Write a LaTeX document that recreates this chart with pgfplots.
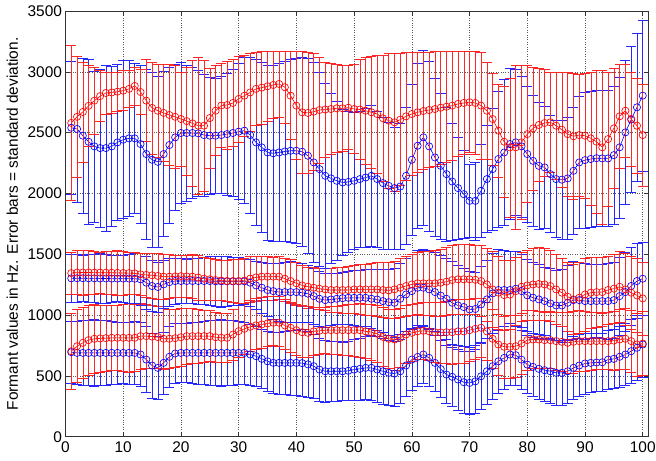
\documentclass[border=0pt]{standalone}
\usepackage{fontspec}
\setmainfont{Liberation Sans}
\usepackage{pgfplots}
\usepackage{pgfplotstable}
\pgfplotsset{compat=1.18}

\pgfplotstableread{
x rm rs bm bs
1 2580 640 2540 550
2 2630 500 2530 600
3 2670 410 2475 640
4 2720 330 2425 680
5 2763 277 2387 620
6 2800 210 2373 650
7 2826 174 2373 680
8 2830 170 2387 660
9 2837 163 2420 640
10 2845 165 2442 650
11 2860 150 2453 640
12 2884 156 2453 620
13 2834 186 2406 650
14 2763 337 2324 700
15 2703 377 2277 720
16 2680 380 2260 700
17 2662 398 2324 680
18 2645 415 2398 640
19 2630 420 2461 600
20 2612 388 2497 580
21 2595 445 2497 560
22 2576 520 2497 540
23 2557 560 2494 520
24 2557 540 2480 500
25 2620 410 2475 480
26 2680 370 2475 470
27 2723 347 2480 480
28 2727 363 2488 500
29 2744 356 2497 520
30 2777 353 2508 560
31 2804 336 2516 600
32 2831 319 2480 640
33 2860 300 2420 680
34 2870 300 2379 700
35 2881 289 2337 720
36 2892 278 2330 720
37 2900 270 2337 730
38 2873 297 2345 740
39 2804 361 2351 750
40 2722 443 2351 760
41 2667 503 2343 780
42 2662 498 2310 800
43 2672 478 2255 820
44 2686 434 2200 800
45 2690 390 2145 760
46 2694 376 2124 700
47 2700 360 2104 650
48 2700 350 2090 600
49 2705 345 2095 580
50 2694 366 2104 560
51 2690 410 2118 560
52 2680 440 2131 570
53 2667 463 2145 580
54 2653 487 2118 560
55 2618 522 2085 540
56 2598 552 2062 520
57 2585 565 2044 500
58 2607 543 2057 520
59 2634 526 2145 560
60 2653 507 2277 620
61 2667 493 2392 680
62 2678 482 2461 720
63 2686 474 2387 700
64 2694 471 2296 650
65 2705 465 2227 600
66 2713 457 2159 550
67 2722 448 2098 480
68 2736 434 2044 420
69 2744 426 1994 360
70 2750 415 1939 300
71 2744 421 1939 320
72 2722 438 2022 380
73 2680 400 2118 440
74 2612 378 2200 500
75 2516 384 2283 560
76 2425 455 2337 600
77 2379 571 2406 620
78 2379 671 2420 600
79 2420 630 2387 580
80 2488 562 2324 560
81 2535 505 2268 540
82 2563 467 2227 520
83 2579 441 2214 500
84 2585 415 2159 480
85 2557 443 2118 480
86 2524 476 2113 490
87 2488 512 2124 500
88 2470 520 2186 520
89 2480 500 2255 540
90 2475 515 2274 560
91 2453 547 2283 560
92 2425 585 2290 560
93 2379 631 2288 560
94 2447 553 2288 560
95 2535 495 2315 570
96 2634 426 2379 580
97 2680 380 2502 590
98 2612 388 2607 600
99 2557 393 2708 610
100 2480 420 2804 620
}\tabFthree

\pgfplotstableread{
x rm rs bm bs
1 1345 175 1302 200
2 1349 180 1303 195
3 1350 185 1303 190
4 1350 180 1302 195
5 1349 175 1302 200
6 1349 170 1301 205
7 1348 175 1301 200
8 1348 180 1300 195
9 1347 185 1300 190
10 1346 180 1300 195
11 1345 175 1300 200
12 1343 170 1299 205
13 1335 175 1294 210
14 1330 180 1266 215
15 1327 185 1239 210
16 1322 190 1231 205
17 1316 185 1252 200
18 1316 180 1271 195
19 1318 175 1280 190
20 1320 170 1280 185
21 1318 175 1280 180
22 1316 180 1280 185
23 1308 185 1280 190
24 1299 180 1280 195
25 1294 175 1280 200
26 1288 170 1277 205
27 1284 165 1277 210
28 1280 170 1277 205
29 1280 175 1277 200
30 1280 180 1277 195
31 1284 185 1277 190
32 1300 180 1266 195
33 1310 175 1244 200
34 1316 170 1225 210
35 1316 165 1206 220
36 1316 160 1197 230
37 1316 165 1189 240
38 1299 170 1189 245
39 1280 175 1189 250
40 1261 170 1189 245
41 1244 165 1184 240
42 1233 160 1176 235
43 1225 165 1156 230
44 1217 170 1134 225
45 1211 175 1123 220
46 1206 180 1128 215
47 1206 185 1134 210
48 1206 190 1139 215
49 1206 195 1142 220
50 1211 200 1142 225
51 1211 205 1142 230
52 1211 210 1142 235
53 1211 215 1134 240
54 1211 220 1128 250
55 1206 225 1115 260
56 1203 230 1106 270
57 1211 235 1101 280
58 1225 240 1134 290
59 1239 245 1170 300
60 1252 250 1197 305
61 1261 255 1225 310
62 1261 260 1225 315
63 1261 265 1211 320
64 1261 270 1189 325
65 1266 275 1160 330
66 1275 280 1134 335
67 1288 285 1101 340
68 1294 290 1079 330
69 1294 290 1066 320
70 1294 285 1046 310
71 1290 280 1050 300
72 1280 290 1088 310
73 1252 300 1129 320
74 1211 310 1178 330
75 1184 300 1206 335
76 1164 290 1206 330
77 1168 285 1206 320
78 1197 280 1217 310
79 1233 285 1197 300
80 1244 290 1162 295
81 1252 295 1143 290
82 1256 300 1129 285
83 1252 295 1115 280
84 1239 290 1096 285
85 1211 285 1079 290
86 1184 280 1079 300
87 1151 285 1101 310
88 1129 290 1123 320
89 1143 295 1123 315
90 1170 300 1115 310
91 1184 295 1115 305
92 1189 290 1115 300
93 1189 285 1115 305
94 1206 280 1115 310
95 1217 285 1123 315
96 1233 290 1156 320
97 1211 295 1189 325
98 1184 300 1239 320
99 1162 305 1280 310
100 1137 300 1299 300
}\tabFtwo

\pgfplotstableread{
x rm rs bm bs
1 703 310 695 255
2 744 300 689 260
3 772 290 689 265
4 794 285 689 270
5 805 280 689 275
6 808 275 689 270
7 810 270 689 265
8 813 265 689 260
9 813 270 689 255
10 813 275 689 250
11 813 280 689 255
12 813 275 689 260
13 827 270 676 265
14 827 265 634 270
15 823 260 585 265
16 819 255 566 260
17 805 250 607 255
18 805 245 657 250
19 810 240 684 245
20 818 235 689 240
21 827 230 689 245
22 827 225 689 250
23 827 220 689 255
24 827 215 689 260
25 827 210 689 265
26 818 205 689 270
27 813 200 689 275
28 813 205 689 270
29 840 210 689 265
30 868 215 689 260
31 887 210 689 255
32 904 205 676 250
33 915 200 662 245
34 923 195 640 240
35 931 190 620 245
36 937 185 607 250
37 937 190 607 255
38 915 195 607 260
39 896 200 607 265
40 876 205 607 270
41 859 210 605 275
42 854 205 595 270
43 866 200 580 265
44 871 195 552 260
45 876 190 538 255
46 876 195 538 250
47 876 200 538 245
48 876 205 538 240
49 876 210 542 245
50 876 215 552 250
51 876 220 558 255
52 866 225 566 260
53 859 230 566 265
54 846 235 552 270
55 821 240 538 275
56 805 245 525 270
57 799 250 519 265
58 813 245 538 260
59 840 240 585 255
60 854 235 634 250
61 866 230 656 245
62 871 235 676 240
63 866 240 648 235
64 859 245 607 230
65 857 250 556 235
66 859 255 511 240
67 859 260 492 245
68 866 265 470 250
69 866 260 448 255
70 876 255 442 260
71 887 250 455 265
72 896 245 497 270
73 866 240 538 275
74 805 245 580 270
75 758 250 620 265
76 739 255 648 260
77 739 260 676 255
78 744 255 670 250
79 766 250 634 245
80 794 245 593 240
81 799 240 574 245
82 799 235 558 250
83 794 230 547 255
84 794 235 538 260
85 786 240 525 265
86 780 245 525 270
87 772 250 538 265
88 780 255 566 260
89 786 250 585 255
90 786 245 602 250
91 786 240 607 245
92 786 235 610 240
93 786 230 612 235
94 786 235 634 240
95 790 240 640 245
96 799 245 657 250
97 805 250 676 255
98 786 255 703 260
99 758 260 731 265
100 766 265 758 270
}\tabFone

\pgfplotsset{
  fser/.style={#1, line width=0.6bp, mark=o, mark size=3.6bp,
    mark options={#1, solid, line width=0.65bp},
    error bars/.cd, y dir=both, y explicit,
    error bar style={#1!85, line width=0.55bp},
    error mark options={#1!85, rotate=90, mark size=5bp, line width=0.55bp}},
}

\begin{document}
\begin{tikzpicture}
\begin{axis}[
  scale only axis, width=583bp, height=425.7bp,
  at={(0,0)}, anchor=south west,
  xmin=0, xmax=101, ymin=0, ymax=3500,
  xtick={0,10,...,100}, ytick={0,500,...,3500},
  scaled ticks=false,
  /pgf/number format/1000 sep={},
  /pgf/number format/assume math mode=true,
  tick label style={font=\fontsize{15.5}{17}\selectfont},
  xticklabel style={yshift=-1.5bp},
  every axis y label/.style={at={(axis description cs:-0.0815,0.5)}, rotate=90, anchor=base, font=\fontsize{15.5}{17}\selectfont},
  ylabel={Formant values in Hz. Error bars = standard deviation.},
  tick align=inside, major tick length=5bp,
  grid=major, grid style={dotted, black!65, line width=0.6bp},
  axis line style={black!80, line width=0.7bp},
  every tick/.style={black!80, line width=0.6bp},
]
\addplot[fser=blue] table[x=x, y=bm, y error=bs] \tabFone;
\addplot[fser=red] table[x=x, y=rm, y error=rs] \tabFone;
\addplot[fser=blue] table[x=x, y=bm, y error=bs] \tabFtwo;
\addplot[fser=red] table[x=x, y=rm, y error=rs] \tabFtwo;
\addplot[fser=blue] table[x=x, y=bm, y error=bs] \tabFthree;
\addplot[fser=red] table[x=x, y=rm, y error=rs] \tabFthree;
\end{axis}
\pgfresetboundingbox
\useasboundingbox (-65.5bp,-24.3bp) rectangle (590.5bp,436.7bp);
\end{tikzpicture}
\end{document}
